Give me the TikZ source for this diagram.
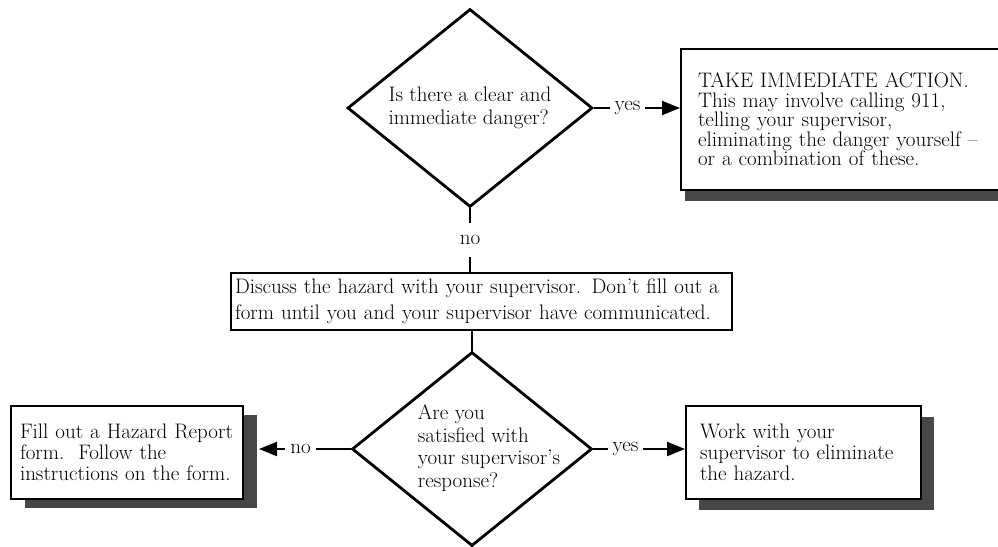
\documentclass[tikz,border=0pt]{standalone}
\usetikzlibrary{shapes.geometric,shadows,arrows.meta}
\begin{document}
\begin{tikzpicture}[x=1pt,y=-1pt,
  every node/.style={font=\fontsize{21}{22.5}\selectfont},
  question/.style={diamond,draw,line width=2.8pt,inner sep=-9pt,aspect=1.24,align=left},
  note/.style={draw,line width=2pt,fill=white,align=left,anchor=north west},
  ombre/.style 2 args={drop shadow={shadow xshift=#1,shadow yshift=#2,fill=black!72,opacity=1}},
  lien/.style={line width=2pt},
  fleche/.style={lien,-{Triangle[length=18pt,width=14pt]}},
  rep/.style={fill=white,inner xsep=5pt,inner ysep=2pt}]

% Cadre
  \clip (0,0) rectangle (998,546);

% Losanges
  \node[question,minimum width=245pt,minimum height=198pt] (danger) at (470,108)
       {Is there a clear and\\immediate danger?};
  \node[question,minimum width=240pt,minimum height=194pt,inner sep=-26pt] (happy) at (472,449)
       {\hspace*{34pt}\begin{tabular}{@{}l@{}}Are you\\satisfied with\\your supervisor's\\response?\end{tabular}};

% Boites
  \node[note,ombre={4pt}{-11pt},font=\fontsize{21}{19.5}\selectfont,
        text width=300pt,inner xsep=17pt,minimum height=141pt] (action) at (680,48)
       {TAKE IMMEDIATE ACTION.\\This may involve calling 911,\\telling your supervisor,\\
        eliminating the danger yourself --\\or a combination of these.};
  \node[note,font=\fontsize{21}{26}\selectfont,text width=493pt,inner xsep=4pt,minimum height=57pt] (talk) at (230,272)
       {Discuss the hazard with your supervisor. Don't fill out a\\
        form until you and your supervisor have communicated.};
  \node[note,ombre={14pt}{-9pt},font=\fontsize{21}{21}\selectfont,text width=214pt,inner xsep=9pt,minimum height=93pt] (fill) at (10,405)
       {Fill out a Hazard Report\\form.\ \ Follow the\\instructions on the form.};
  \node[note,ombre={13pt}{-11pt},font=\fontsize{21}{21}\selectfont,text width=207pt,inner xsep=14pt,minimum height=93pt] (work) at (685,405)
       {Work with your\\supervisor to eliminate\\the hazard.};

% Liens
  \draw[fleche] (danger.east) -- node[rep,pos=0.39] {yes} (danger.east -| action.west);
  \draw[lien] (danger.south) -- node[rep,inner ysep=12pt] {no} (danger.south |- talk.north);
  \draw[lien] (happy.north |- talk.south) -- (happy.north);
  \draw[fleche,shorten >=15pt] (happy.west) -- node[rep,pos=0.47] {no} (happy.west -| fill.east);
  \draw[fleche] (happy.east) -- node[rep,pos=0.35] {yes} (happy.east -| work.west);

\end{tikzpicture}
\end{document}
